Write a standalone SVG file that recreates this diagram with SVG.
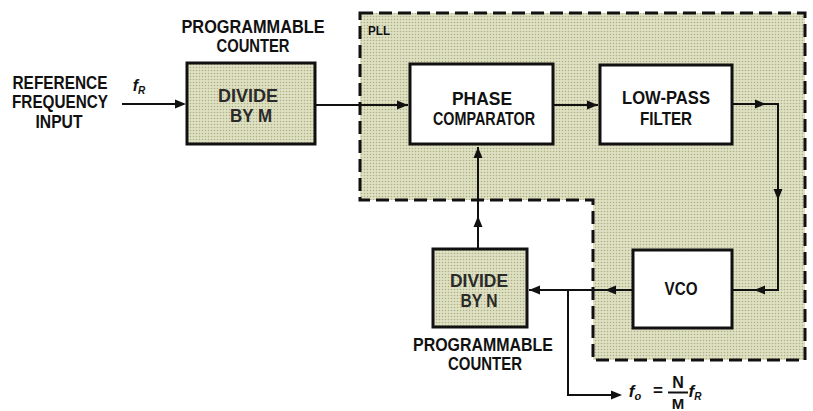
<svg xmlns="http://www.w3.org/2000/svg" xmlns:xlink="http://www.w3.org/1999/xlink" width="813" height="411" viewBox="0 0 813 411">
<style>
.t{font-family:"Liberation Sans",Arial,sans-serif;font-weight:bold;fill:#111;text-anchor:middle}
.lbl{font-size:18px}
.dim{fill:#2a2a2a}
.box{stroke:#111;stroke-width:3}
.white{fill:#fff}
.stip{fill:url(#stip)}
.wire{fill:none;stroke:#111;stroke-width:2}
.it{font-style:italic}
</style>
<defs>
<pattern id="stip" width="3" height="3" patternUnits="userSpaceOnUse">
<rect width="3" height="3" fill="#dfe1c3"/>
<circle cx="1.5" cy="1.5" r="0.8" fill="#adb086"/>
</pattern>
<path id="ah" d="M0,0 L-11,-4.5 L-11,4.5 Z" fill="#111"/>
</defs>
<rect width="813" height="411" fill="#fff"/>

<g id="pll">
<path d="M360,13 H805 V360 H593 V200 H360 Z" fill="url(#stip)" stroke="#111" stroke-width="3" stroke-dasharray="13 6"/>
<text class="t" x="379" y="35" font-size="13" textLength="22" lengthAdjust="spacingAndGlyphs">PLL</text>
</g>

<g id="connectors">
<line class="wire" x1="122" y1="104" x2="184" y2="104"/>
<use xlink:href="#ah" transform="translate(186,104)"/>
<line class="wire" x1="315" y1="105" x2="408" y2="105"/>
<use xlink:href="#ah" transform="translate(408,105)"/>
<line class="wire" x1="553" y1="105" x2="598" y2="105"/>
<use xlink:href="#ah" transform="translate(598,105)"/>
<polyline class="wire" points="732,104 778,104 778,290 732,290"/>
<use xlink:href="#ah" transform="translate(766,104)"/>
<use xlink:href="#ah" transform="translate(778,200) rotate(90)"/>
<use xlink:href="#ah" transform="translate(754,290) rotate(180)"/>
<line class="wire" x1="633" y1="290" x2="529" y2="290"/>
<use xlink:href="#ah" transform="translate(605,290) rotate(180)"/>
<use xlink:href="#ah" transform="translate(529,290) rotate(180)"/>
<polyline class="wire" points="568,290 568,395 620,395"/>
<use xlink:href="#ah" transform="translate(622,395)"/>
<line class="wire" x1="478" y1="249" x2="478" y2="147"/>
<use xlink:href="#ah" transform="translate(478,216) rotate(-90)"/>
<use xlink:href="#ah" transform="translate(478,147) rotate(-90)"/>
</g>

<g id="input">
<text class="t lbl" x="60" y="89" textLength="95" lengthAdjust="spacingAndGlyphs">REFERENCE</text>
<text class="t lbl" x="60" y="108" textLength="96" lengthAdjust="spacingAndGlyphs">FREQUENCY</text>
<text class="t lbl" x="59" y="128" textLength="47" lengthAdjust="spacingAndGlyphs">INPUT</text>
<text class="t it" x="139" y="91" font-size="16" text-anchor="start">f<tspan font-size="10" dy="3">R</tspan></text>
</g>

<g id="divide-m">
<text class="t lbl" x="253" y="33" font-size="16" textLength="143" lengthAdjust="spacingAndGlyphs">PROGRAMMABLE</text>
<text class="t lbl" x="253" y="52" font-size="16" textLength="73" lengthAdjust="spacingAndGlyphs">COUNTER</text>
<rect class="box stip" x="187" y="63" width="128" height="81"/>
<text class="t lbl dim" x="248" y="102" textLength="60" lengthAdjust="spacingAndGlyphs">DIVIDE</text>
<text class="t lbl dim" x="251" y="122" textLength="42" lengthAdjust="spacingAndGlyphs">BY M</text>
</g>

<g id="phase-comparator">
<rect class="box white" x="410" y="64" width="143" height="80"/>
<text class="t lbl" x="482" y="105" textLength="60" lengthAdjust="spacingAndGlyphs">PHASE</text>
<text class="t lbl" x="484" y="125" textLength="102" lengthAdjust="spacingAndGlyphs">COMPARATOR</text>
</g>

<g id="low-pass-filter">
<rect class="box white" x="600" y="65" width="132" height="79"/>
<text class="t lbl" x="666" y="104" textLength="88" lengthAdjust="spacingAndGlyphs">LOW-PASS</text>
<text class="t lbl" x="666" y="125" textLength="52" lengthAdjust="spacingAndGlyphs">FILTER</text>
</g>

<g id="vco">
<rect class="box white" x="633" y="250" width="99" height="78"/>
<text class="t lbl" x="681" y="295" textLength="33" lengthAdjust="spacingAndGlyphs">VCO</text>
</g>

<g id="divide-n">
<rect class="box stip" x="433" y="249" width="94" height="78"/>
<text class="t lbl dim" x="479" y="287" textLength="58" lengthAdjust="spacingAndGlyphs">DIVIDE</text>
<text class="t lbl dim" x="479" y="307" textLength="37" lengthAdjust="spacingAndGlyphs">BY N</text>
<text class="t lbl" x="483" y="351" textLength="140" lengthAdjust="spacingAndGlyphs">PROGRAMMABLE</text>
<text class="t lbl" x="485" y="370" textLength="74" lengthAdjust="spacingAndGlyphs">COUNTER</text>
</g>

<g id="output">
<text class="t it" x="635" y="397" font-size="17" text-anchor="start">f<tspan font-size="11" dy="3">o</tspan></text>
<text class="t" x="658" y="396" font-size="17">=</text>
<text class="t" x="678" y="388" font-size="16">N</text>
<line x1="668" y1="392.5" x2="688" y2="392.5" stroke="#111" stroke-width="2"/>
<text class="t" x="678" y="409" font-size="15">M</text>
<text class="t it" x="695" y="397" font-size="17" text-anchor="start">f<tspan font-size="10" dy="3">R</tspan></text>
</g>
</svg>
